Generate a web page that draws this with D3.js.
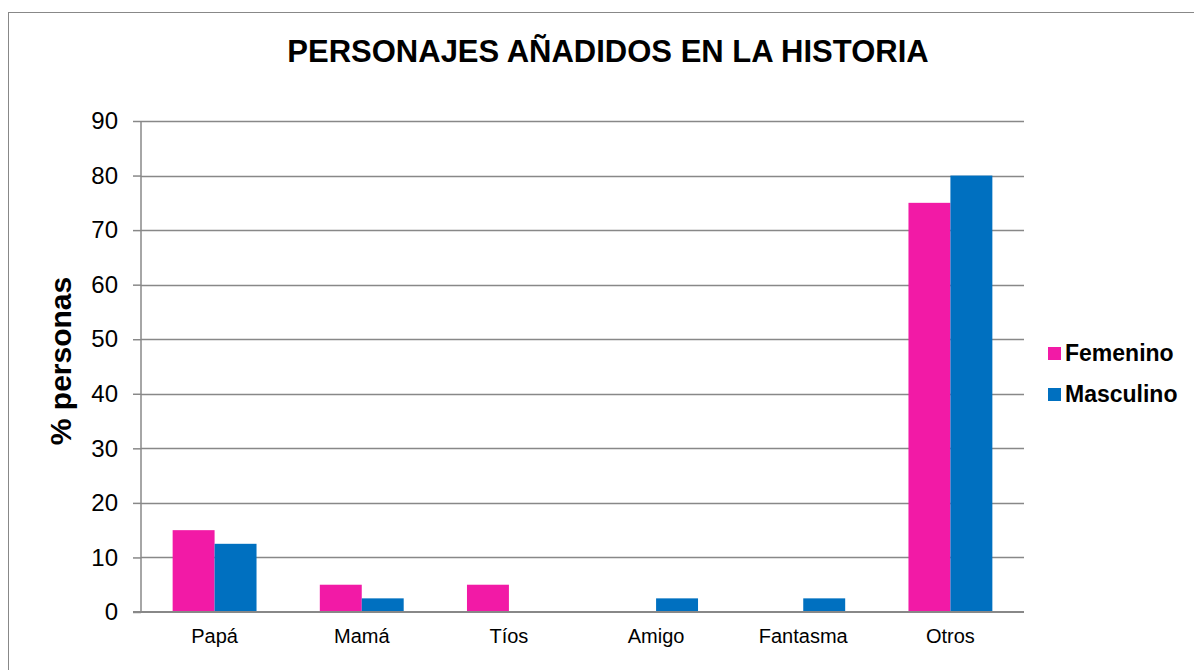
<!DOCTYPE html>
<html>
<head>
<meta charset="utf-8">
<script src="https://cdn.jsdelivr.net/npm/d3@7"></script>
<style>
  body { margin: 0; background: #fff; }
  svg { display: block; font-family: "Liberation Sans", Arial, sans-serif; }
</style>
</head>
<body>
<div id="chart"></div>
<script>
// data
const categories = ["Papá", "Mamá", "Tíos", "Amigo", "Fantasma", "Otros"];
const seriesNames = ["Femenino", "Masculino"];
const femenino = [15, 5, 5, 0, 0, 75];
const masculino = [12.5, 2.5, 0, 2.5, 2.5, 80];
const yTicks = [0, 10, 20, 30, 40, 50, 60, 70, 80, 90];
const colors = ["#F21AA6", "#0070C0"];

const width = 1194, height = 670;
const plot = {left: 141, right: 1024, top: 121, bottom: 612};

const svg = d3.select("#chart").append("svg")
  .attr("width", width)
  .attr("height", height);

// outer chart border (runs off the bottom/right of the picture)
svg.append("rect")
  .attr("x", 8.5).attr("y", 12.5)
  .attr("width", 1200).attr("height", 700)
  .attr("fill", "none")
  .attr("stroke", "#888").attr("stroke-width", 1);

const x = d3.scaleBand().domain(categories).range([plot.left, plot.right]);
const gap = x.bandwidth() * 0.215; // empty space either side of a bar pair
const xs = d3.scaleBand().domain(seriesNames).range([gap, x.bandwidth() - gap]);
const y = d3.scaleLinear().domain([0, 90]).range([plot.bottom, plot.top]);

// gridlines
svg.append("g")
  .selectAll("line")
  .data(yTicks.filter(d => d > 0))
  .enter().append("line")
    .attr("x1", plot.left).attr("x2", plot.right)
    .attr("y1", d => Math.round(y(d)) + 0.5).attr("y2", d => Math.round(y(d)) + 0.5)
    .attr("stroke", "#888").attr("stroke-width", 1.5);

// bars
const data = categories.map((c, i) => ({cat: c, vals: [femenino[i], masculino[i]]}));
svg.append("g")
  .selectAll("g")
  .data(data)
  .enter().append("g")
    .attr("transform", d => "translate(" + x(d.cat) + ",0)")
  .selectAll("rect")
  .data(d => d.vals.map((v, j) => ({name: seriesNames[j], v: v, j: j})))
  .enter().append("rect")
    .attr("x", d => xs(d.name))
    .attr("width", xs.bandwidth())
    .attr("y", d => y(d.v))
    .attr("height", d => y(0) - y(d.v))
    .attr("fill", d => colors[d.j]);

// y axis
const yAxis = svg.append("g")
  .attr("transform", "translate(" + plot.left + ",0)")
  .call(d3.axisLeft(y).tickValues(yTicks).tickSize(8).tickPadding(15));
yAxis.select(".domain").attr("stroke", "#888").attr("stroke-width", 1.5).attr("d", "M0," + plot.top + "V" + plot.bottom);
yAxis.selectAll(".tick line").attr("stroke", "#888").attr("stroke-width", 1.5);
yAxis.selectAll(".tick text").attr("font-size", "24px").attr("fill", "#000")
  .attr("font-family", "Liberation Sans, Arial, sans-serif");

// x axis
const xAxis = svg.append("g")
  .attr("transform", "translate(0," + plot.bottom + ")")
  .call(d3.axisBottom(x).tickSize(0).tickPadding(17));
xAxis.select(".domain").attr("stroke", "#888").attr("stroke-width", 2)
  .attr("d", "M" + (plot.left - 8) + ",0H" + plot.right);
xAxis.selectAll(".tick text").attr("font-size", "20px").attr("fill", "#000")
  .attr("font-family", "Liberation Sans, Arial, sans-serif");

// title
svg.append("text")
  .attr("x", 608).attr("y", 62)
  .attr("text-anchor", "middle")
  .attr("font-size", "31px").attr("font-weight", "bold")
  .text("PERSONAJES AÑADIDOS EN LA HISTORIA");

// y label
svg.append("text")
  .attr("transform", "translate(71,361) rotate(-90)")
  .attr("text-anchor", "middle")
  .attr("font-size", "30px").attr("font-weight", "bold")
  .text("% personas");

// legend
const legend = svg.append("g").attr("transform", "translate(1048,347)");
const item = legend.selectAll("g")
  .data(seriesNames)
  .enter().append("g")
    .attr("transform", (d, i) => "translate(0," + (i * 41) + ")");
item.append("rect")
  .attr("width", 13).attr("height", 13)
  .attr("fill", (d, i) => colors[i]);
item.append("text")
  .attr("x", 17).attr("y", 14)
  .attr("font-size", "23px").attr("font-weight", "bold")
  .text(d => d);
</script>
</body>
</html>
